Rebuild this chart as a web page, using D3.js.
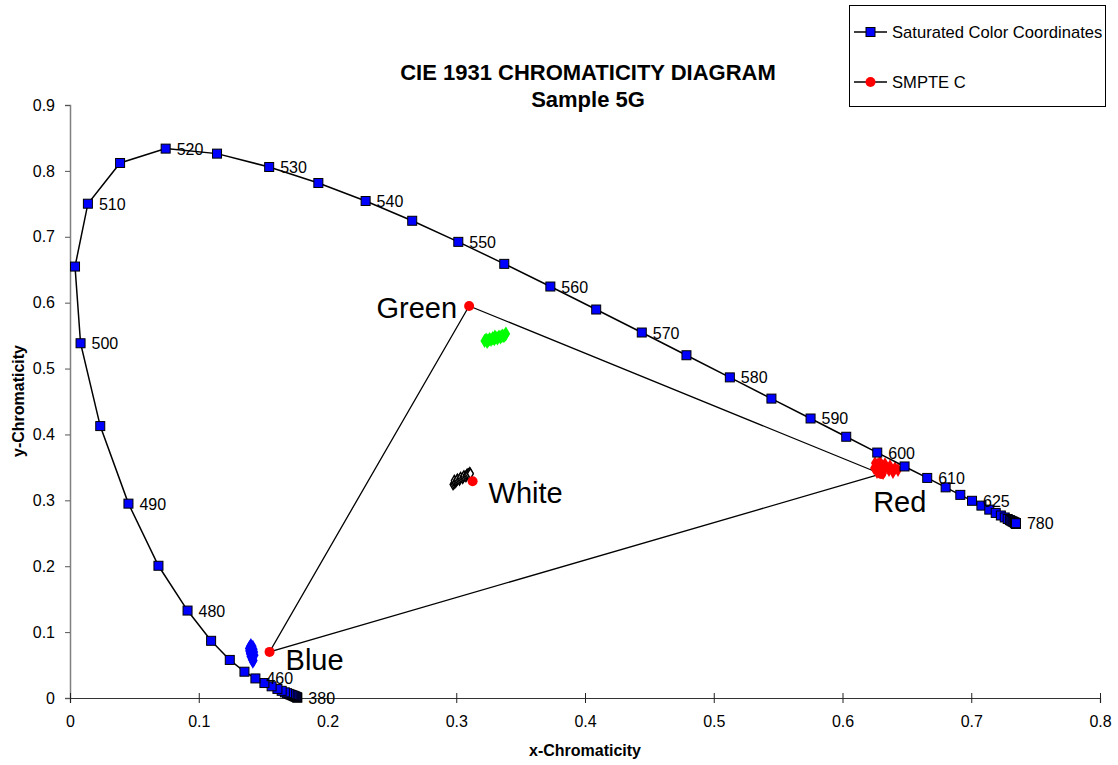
<!DOCTYPE html>
<html>
<head>
<meta charset="utf-8">
<script src="https://cdn.jsdelivr.net/npm/d3@7"></script>
<style>
  html, body { margin: 0; padding: 0; background: #fff; }
  svg { display: block; font-family: "Liberation Sans", Arial, sans-serif; }
</style>
</head>
<body>
<svg id="chart" width="1118" height="765"></svg>
<script>
// ---------------- DATA ----------------
const wavelengths = [380,385,390,395,400,405,410,415,420,425,430,435,440,445,450,455,460,465,470,475,480,485,490,495,500,505,510,515,520,525,530,535,540,545,550,555,560,565,570,575,580,585,590,595,600,605,610,615,620,625,630,635,640,645,650,655,660,665,670,675,680,685,690,695,700,705,710,715,720,725,730,735,740,745,750,755,760,765,770,775,780];
const locusX = [0.1766,0.1763,0.1758,0.1752,0.1745,0.1738,0.1730,0.1721,0.1711,0.1699,0.1686,0.1669,0.1644,0.1611,0.1566,0.1510,0.1440,0.1355,0.1241,0.1096,0.0913,0.0687,0.0454,0.0235,0.0082,0.0039,0.0139,0.0389,0.0743,0.1142,0.1547,0.1929,0.2296,0.2658,0.3016,0.3373,0.3731,0.4087,0.4441,0.4788,0.5125,0.5448,0.5752,0.6029,0.6270,0.6482,0.6658,0.6801,0.6915,0.7006,0.7079,0.7140,0.7190,0.7230,0.7260,0.7283,0.7300,0.7311,0.7320,0.7327,0.7334,0.7340,0.7344,0.7346,0.7347,0.7347,0.7347,0.7347,0.7347,0.7347,0.7347,0.7347,0.7347,0.7347,0.7347,0.7347,0.7347,0.7347,0.7347,0.7347,0.7347];
const locusY = [0.0005,0.0010,0.0015,0.0020,0.0026,0.0032,0.0038,0.0045,0.0053,0.0062,0.0073,0.0086,0.0109,0.0138,0.0177,0.0227,0.0297,0.0399,0.0578,0.0868,0.1327,0.2007,0.2950,0.4127,0.5384,0.6548,0.7502,0.8120,0.8338,0.8262,0.8059,0.7816,0.7543,0.7243,0.6923,0.6589,0.6245,0.5896,0.5547,0.5202,0.4866,0.4544,0.4242,0.3965,0.3725,0.3514,0.3340,0.3197,0.3083,0.2993,0.2920,0.2859,0.2809,0.2770,0.2740,0.2717,0.2700,0.2689,0.2680,0.2673,0.2666,0.2660,0.2656,0.2654,0.2653,0.2653,0.2653,0.2653,0.2653,0.2653,0.2653,0.2653,0.2653,0.2653,0.2653,0.2653,0.2653,0.2653,0.2653,0.2653,0.2653];
const labeledWavelengths = [380,460,480,490,500,510,520,530,540,550,560,570,580,590,600,610,625,780];

// SMPTE C primaries and white point
const smpteNames = ["Red","Green","Blue","White"];
const smpteX = [0.630, 0.310, 0.155, 0.3127];
const smpteY = [0.340, 0.595, 0.070, 0.3290];
const triangleOrder = ["Red","Green","Blue","Red"];

// Measured sample clusters
const greenSamples = [[0.3220,0.5420],[0.3232,0.5438],[0.3245,0.5422],[0.3258,0.5447],[0.3270,0.5436],[0.3283,0.5460],[0.3295,0.5447],[0.3308,0.5470],[0.3320,0.5458],[0.3332,0.5485],[0.3345,0.5475],[0.3357,0.5500],[0.3370,0.5492],[0.3382,0.5518],[0.3386,0.5530],[0.3300,0.5485],[0.3240,0.5405]];
const whiteSamples = [[0.2975,0.3240],[0.2982,0.3255],[0.2990,0.3265],[0.2985,0.3300],[0.3000,0.3290],[0.3005,0.3305],[0.3010,0.3320],[0.3025,0.3310],[0.3030,0.3330],[0.3035,0.3345],[0.3050,0.3335],[0.3055,0.3355],[0.3060,0.3370],[0.3075,0.3360],[0.3080,0.3380],[0.3085,0.3395],[0.3095,0.3400],[0.3105,0.3420],[0.3110,0.3405]];
const blueSamples = [[0.1405,0.0810],[0.1395,0.0780],[0.1420,0.0785],[0.1388,0.0750],[0.1410,0.0755],[0.1428,0.0740],[0.1390,0.0715],[0.1415,0.0705],[0.1432,0.0700],[0.1395,0.0670],[0.1420,0.0660],[0.1435,0.0650],[0.1400,0.0630],[0.1425,0.0615],[0.1410,0.0585],[0.1428,0.0570],[0.1420,0.0545]];
const redSamples = [[0.6252,0.3566],[0.6291,0.3581],[0.6330,0.3551],[0.6369,0.3520],[0.6408,0.3490],[0.6431,0.3460],[0.6245,0.3490],[0.6283,0.3505],[0.6322,0.3475],[0.6361,0.3460],[0.6392,0.3430],[0.6268,0.3430],[0.6315,0.3414],[0.6270,0.3540],[0.6310,0.3520]];

const xTicks = [0,0.1,0.2,0.3,0.4,0.5,0.6,0.7,0.8];
const yTicks = [0,0.1,0.2,0.3,0.4,0.5,0.6,0.7,0.8,0.9];
const titleLines = ["CIE 1931 CHROMATICITY DIAGRAM","Sample 5G"];
const legendLabels = ["Saturated Color Coordinates","SMPTE C"];

// ---------------- LAYOUT ----------------
const svg = d3.select("#chart");
const x = d3.scaleLinear().domain([0,0.8]).range([70,1100]);
const y = d3.scaleLinear().domain([0,0.9]).range([698,105]);

// Title
svg.append("g").selectAll("text").data(titleLines).join("text")
  .attr("x", 588).attr("y", (d,i) => 80 + i*27)
  .attr("text-anchor","middle").attr("font-size", 22).attr("font-weight","bold")
  .text(d => d);

// Y axis
const yAxis = svg.append("g").attr("transform","translate(70,0)")
  .call(d3.axisLeft(y).tickValues(yTicks).tickSize(5).tickPadding(10).tickFormat(d3.format("")));
yAxis.select(".domain").attr("stroke","#808080").attr("stroke-width",1.5);
yAxis.selectAll(".tick line").attr("stroke","#555");
yAxis.selectAll(".tick text").attr("font-size",16).attr("font-family","Liberation Sans, Arial, sans-serif").attr("fill","#000");

// X axis
const xAxis = svg.append("g").attr("transform","translate(0,698)")
  .call(d3.axisBottom(x).tickValues(xTicks).tickSize(5).tickPadding(13).tickFormat(d3.format("")));
xAxis.select(".domain").attr("stroke","#333").attr("stroke-width",1.2);
xAxis.selectAll(".tick line").attr("y1",-5).attr("y2",5).attr("stroke","#222");
xAxis.selectAll(".tick text").attr("font-size",16).attr("font-family","Liberation Sans, Arial, sans-serif").attr("fill","#000");

// Axis titles
svg.append("text").attr("x",585).attr("y",756).attr("text-anchor","middle")
  .attr("font-size",16).attr("font-weight","bold").text("x-Chromaticity");
svg.append("text").attr("transform","translate(24,401) rotate(-90)").attr("text-anchor","middle")
  .attr("font-size",16).attr("font-weight","bold").text("y-Chromaticity");

// SMPTE triangle
const smpte = smpteNames.map((n,i) => ({name:n, x:smpteX[i], y:smpteY[i]}));
const byName = Object.fromEntries(smpte.map(d => [d.name, d]));
const line = d3.line().x(d => x(d.x)).y(d => y(d.y));
svg.append("path").datum(triangleOrder.map(n => byName[n]))
  .attr("d", line).attr("fill","none").attr("stroke","#000").attr("stroke-width",1.3);

// Sample clusters
const diamond = d3.symbol().type(d3.symbolDiamond);
function cluster(data, fill, stroke, size, sw) {
  svg.append("g").selectAll("path").data(data).join("path")
    .attr("transform", d => `translate(${x(d[0])},${y(d[1])})`)
    .attr("d", diamond.size(size)())
    .attr("fill", fill).attr("stroke", stroke).attr("stroke-width", sw);
}
cluster(greenSamples, "#00FF00", "none", 60, 0);
cluster(blueSamples, "#0000FF", "none", 50, 0);
cluster(redSamples, "#FF0000", "none", 55, 0);
cluster(whiteSamples, "#FFFFFF", "#000", 30, 1.4);

// SMPTE dots
svg.append("g").selectAll("circle").data(smpte).join("circle")
  .attr("cx", d => x(d.x)).attr("cy", d => y(d.y)).attr("r", 5).attr("fill","#FF0000");

// Primary labels
const labelOffsets = {Green:[-12,12,"end"], White:[16,22,"start"], Red:[-8,38,"start"], Blue:[16,18,"start"]};
svg.append("g").selectAll("text").data(smpte).join("text")
  .attr("x", d => x(d.x) + labelOffsets[d.name][0])
  .attr("y", d => y(d.y) + labelOffsets[d.name][1])
  .attr("text-anchor", d => labelOffsets[d.name][2])
  .attr("font-size", 29).text(d => d.name);

// Spectral locus
const locus = wavelengths.map((w,i) => ({w, x:locusX[i], y:locusY[i]}));
svg.append("path").datum(locus).attr("d", line)
  .attr("fill","none").attr("stroke","#000").attr("stroke-width",1.5);
svg.append("g").selectAll("rect").data(locus).join("rect")
  .attr("x", d => x(d.x) - 4.5).attr("y", d => y(d.y) - 4.5)
  .attr("width", 9).attr("height", 9)
  .attr("fill","#0000FF").attr("stroke","#000").attr("stroke-width",1);
svg.append("g").selectAll("text").data(locus.filter(d => labeledWavelengths.includes(d.w))).join("text")
  .attr("x", d => x(d.x) + 11).attr("y", d => y(d.y) + 6)
  .attr("font-size", 16).text(d => d.w);

// Legend
const lg = svg.append("g");
lg.append("rect").attr("x",849.5).attr("y",5.5).attr("width",256).attr("height",101)
  .attr("fill","#fff").attr("stroke","#000").attr("stroke-width",1);
legendLabels.forEach((lab,i) => {
  const ly = 32 + i*50;
  lg.append("line").attr("x1",854).attr("x2",887).attr("y1",ly).attr("y2",ly).attr("stroke","#000").attr("stroke-width",1.3);
  if (i === 0) {
    lg.append("rect").attr("x",866).attr("y",ly-4.5).attr("width",9).attr("height",9)
      .attr("fill","#0000FF").attr("stroke","#000");
  } else {
    lg.append("circle").attr("cx",870.5).attr("cy",ly).attr("r",5).attr("fill","#FF0000");
  }
  lg.append("text").attr("x",892).attr("y",ly+6).attr("font-size",16.6).text(lab);
});
</script>
</body>
</html>
